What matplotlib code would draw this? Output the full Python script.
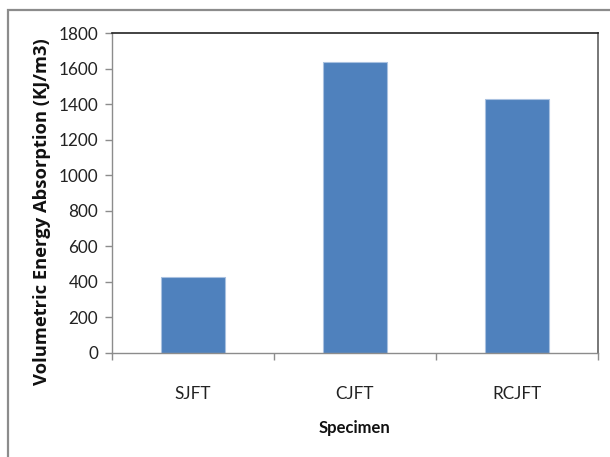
import matplotlib
matplotlib.use("Agg")
import matplotlib.pyplot as plt
from matplotlib.patches import Rectangle

categories = ["SJFT", "CJFT", "RCJFT"]
values = [426, 1638, 1428]
y_ticks = [0, 200, 400, 600, 800, 1000, 1200, 1400, 1600, 1800]

plt.rcParams['font.family'] = ['Lato', 'DejaVu Sans']

W, H = 610, 457
fig = plt.figure(figsize=(W / 100, H / 100), dpi=100)
fig.patch.set_facecolor("white")

# outer chart frame (runs off the right and bottom edges)
fig.patches.append(Rectangle((8 / W, -0.1), 1.2, 1 - 10 / H + 0.1,
                             transform=fig.transFigure, fill=False,
                             edgecolor="#8c8c8c", linewidth=1.6))

ax = fig.add_axes([112 / W, 1 - 352.6 / H, (598 - 112) / W, (352.6 - 33.3) / H])
x = list(range(len(categories)))
ax.bar(x, values, width=0.4, color="#4F81BD", edgecolor="#a9c1e0", linewidth=0.8, zorder=2)

tick_font = dict(family=['Lato', 'DejaVu Sans'], size=12.3)

ax.set_xlim(-0.5, len(categories) - 0.5)
ax.set_ylim(0, 1800)
ax.set_yticks(y_ticks)
ax.set_yticklabels([str(v) for v in y_ticks], fontdict=tick_font, color="#222222")
ax.set_xticks(x)
ax.set_xticklabels(categories, fontdict=tick_font, color="#222222")
ax.tick_params(axis="x", length=0, pad=24)
ax.set_xticks([-0.5, 0.5, 1.5, 2.5], minor=True)
ax.tick_params(axis="x", which="minor", length=5, color="#8c8c8c", width=1)
ax.tick_params(axis="y", length=5, color="#8c8c8c", width=1, pad=5)

for side in ("left", "bottom"):
    ax.spines[side].set_color("#8c8c8c")
    ax.spines[side].set_linewidth(1)
ax.spines["top"].set_color("#222222")
ax.spines["top"].set_linewidth(1.2)
ax.spines["right"].set_color("#777777")
ax.spines["right"].set_linewidth(1.4)

fig.text(42 / W, 1 - 212 / H, "Volumetric Energy Absorption (KJ/m3)",
         rotation=90, ha="center", va="center", fontsize=13.2, fontweight="bold",
         family=['Open Sans', 'DejaVu Sans'], color="#111111")
fig.text(354 / W, 1 - 428 / H, "Specimen", ha="center", va="center",
         fontsize=12, fontweight="bold", color="#111111")

fig.savefig("out.png", dpi=100)
